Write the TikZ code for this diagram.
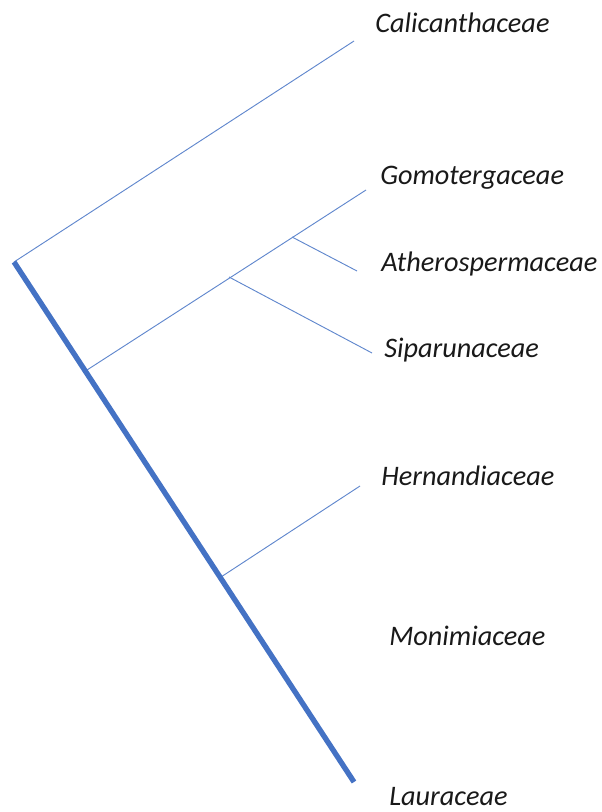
\documentclass[tikz,border=0pt]{standalone}
\usepackage{fontspec}
\setmainfont{Carlito}
\definecolor{branch}{HTML}{4472C4}
\begin{document}
\begin{tikzpicture}[x=0.75pt,y=-0.75pt,
  thin branch/.style={draw=branch!85, line width=0.7pt},
  thick branch/.style={draw=branch, line width=4pt},
  taxon/.style={anchor=west, inner sep=0pt, text=black!90, font=\itshape\fontsize{21.2}{25}\selectfont}]
\useasboundingbox (0,0) rectangle (601,812);
\coordinate (root) at (14,262);
\coordinate (lau) at (354,782);
\coordinate (n1) at (87,370);
\coordinate (n2) at (229,277);
\coordinate (n3) at (292,237);
\coordinate (n4) at (221,577);
\coordinate (cal) at (354,41);
\coordinate (gom) at (366,190);
\coordinate (ath) at (357,271);
\coordinate (sip) at (372,353);
\coordinate (her) at (360,486);
\draw[thin branch] (root) -- (cal);
\draw[thin branch] (n1) -- (gom);
\draw[thin branch] (n3) -- (ath);
\draw[thin branch] (n2) -- (sip);
\draw[thin branch] (n4) -- (her);
\draw[thick branch] (root) -- (lau);
\node[taxon] (tcal) at (375,23) {Calicanthaceae};
\node[taxon] (tgom) at (380,178) {Gomotergaceae};
\node[taxon] (tath) at (381,264) {Atherospermaceae};
\node[taxon] (tsip) at (384,350) {Siparunaceae};
\node[taxon] (ther) at (381,476) {Hernandiaceae};
\node[taxon] (tmon) at (389,636) {Monimiaceae};
\node[taxon] (tlau) at (389,797) {Lauraceae};
\end{tikzpicture}
\end{document}
